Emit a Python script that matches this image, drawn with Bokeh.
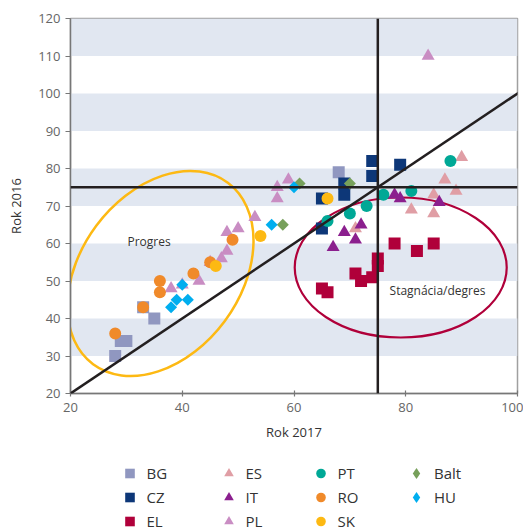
import numpy as np
from bokeh.plotting import figure
from bokeh.layouts import column
from bokeh.models import (Range1d, FixedTicker, Span, Slope, Label, Legend, LegendItem)
from bokeh.embed import file_html
from bokeh.resources import INLINE

# ---- data (Rok 2017 = x, Rok 2016 = y) ----
BG_x = [28, 29, 30, 33, 35, 68]
BG_y = [30, 34, 34, 43, 40, 79]
CZ_x = [65, 65, 69, 69, 74, 74, 79]
CZ_y = [72, 64, 76, 73, 82, 78, 81]
EL_x = [65, 66, 71, 72, 74, 75, 75, 78, 82, 85]
EL_y = [48, 47, 52, 50, 51, 54, 56, 60, 58, 60]
ES_x = [71, 81, 85, 85, 87, 89, 90]
ES_y = [64, 69, 68, 73, 77, 74, 83]
IT_x = [67, 69, 71, 72, 78, 79, 86]
IT_y = [59, 63, 61, 65, 73, 72, 71]
PL_x = [38, 40, 43, 45, 47, 48, 48, 50, 53, 57, 57, 59, 84]
PL_y = [48, 49, 50, 55, 56, 58, 63, 64, 67, 72, 75, 77, 110]
PT_x = [66, 70, 73, 76, 81, 88]
PT_y = [66, 68, 70, 73, 74, 82]
RO_x = [28, 33, 36, 36, 42, 45, 49]
RO_y = [36, 43, 47, 50, 52, 55, 61]
SK_x = [46, 54, 66]
SK_y = [54, 62, 72]
Balt_x = [58, 61, 70]
Balt_y = [65, 76, 76]
HU_x = [38, 39, 41, 40, 56, 60]
HU_y = [43, 45, 45, 49, 65, 75]

x_ticks = [20, 40, 60, 80, 100]
y_ticks = [20, 30, 40, 50, 60, 70, 80, 90, 100, 110, 120]
threshold_x = 75
threshold_y = 75

# group ellipses (center in data units)
prog_center = (36.1, 52.0)
stag_center = (79.1, 53.6)

FONT = "Open Sans"

p = figure(width=523, height=453, output_backend="svg", toolbar_location=None,
           x_range=Range1d(20, 100), y_range=Range1d(20, 120),
           min_border_left=70, min_border_right=6, min_border_top=18,
           min_border_bottom=60)
p.background_fill_color = "white"
p.outline_line_color = "#a0a0a0"
p.outline_line_width = 1.5

# bands
p.xgrid.grid_line_color = None
p.ygrid.grid_line_color = None
p.ygrid.band_fill_color = "#e1e7f1"
p.ygrid.band_fill_alpha = 1.0

for ax in (p.xaxis[0], p.yaxis[0]):
    ax.axis_line_color = "#777777"
    ax.axis_line_width = 1.5
    ax.major_tick_line_color = "#777777"
    ax.major_tick_line_width = 1.2
    ax.minor_tick_line_color = None
    ax.major_label_text_font = FONT
    ax.major_label_text_font_size = "13px"
    ax.major_label_text_color = "#666666"
    ax.axis_label_text_font = FONT
    ax.axis_label_text_font_size = "13px"
    ax.axis_label_text_font_style = "normal"
    ax.axis_label_text_color = "#333333"

p.xaxis.ticker = FixedTicker(ticks=x_ticks)
p.yaxis.ticker = FixedTicker(ticks=y_ticks)
p.xaxis.major_tick_in = 3
p.xaxis.major_tick_out = 3
p.yaxis.major_tick_in = 0
p.yaxis.major_tick_out = 5
p.xaxis.major_label_standoff = 6
p.yaxis.major_label_standoff = 5
p.xaxis.axis_label = "Rok 2017"
p.yaxis.axis_label = "Rok 2016"
p.xaxis.axis_label_standoff = 8
p.yaxis.axis_label_standoff = 10

# reference lines
p.add_layout(Slope(gradient=1, y_intercept=0, line_color="#231f20", line_width=2.5))
p.add_layout(Span(location=threshold_x, dimension="height", line_color="#231f20", line_width=2.5))
p.add_layout(Span(location=threshold_y, dimension="width", line_color="#231f20", line_width=2.5))

# group ellipses
p.ellipse(x=[prog_center[0]], y=[prog_center[1]], width=226, height=160,
          width_units="screen", height_units="screen", angle=0.932,
          fill_color=None, line_color="#fdb913", line_width=2.5)
p.ellipse(x=[stag_center[0]], y=[stag_center[1]], width=212, height=140,
          width_units="screen", height_units="screen", angle=0.0,
          fill_color=None, line_color="#b0003a", line_width=2.2)

p.add_layout(Label(x=30.2, y=60.5, text="Progres", text_font=FONT, text_font_size="12px",
                   text_color="#333333", text_baseline="middle"))
p.add_layout(Label(x=77.1, y=47.5, text="Stagnácia/degres", text_font=FONT,
                   text_font_size="12px", text_color="#333333", text_baseline="middle"))

series = [
    ("BG", BG_x, BG_y, "square", "#9097c0", 12, 0),
    ("CZ", CZ_x, CZ_y, "square", "#0d3778", 12, 0),
    ("EL", EL_x, EL_y, "square", "#b0003a", 12, 0),
    ("ES", ES_x, ES_y, "triangle", "#e09ea5", 13, 0),
    ("IT", IT_x, IT_y, "triangle", "#8b1f8e", 13, 0),
    ("PL", PL_x, PL_y, "triangle", "#c98dc3", 13, 0),
    ("PT", PT_x, PT_y, "circle", "#00a896", 12, 0),
    ("RO", RO_x, RO_y, "circle", "#f08a2a", 12, 0),
    ("SK", SK_x, SK_y, "circle", "#fdb913", 12, 0),
    ("Balt", Balt_x, Balt_y, "square", "#77a05b", 8.5, np.pi / 4),
    ("HU", HU_x, HU_y, "square", "#00aeef", 8.5, np.pi / 4),
]

for name, xs, ys, marker, color, size, ang in series:
    p.scatter(x=xs, y=ys, marker=marker, size=size, angle=ang,
              fill_color=color, line_color=None)

# ---- legend panel below the chart (key glyphs only; off-canvas anchor point) ----
lf = figure(width=523, height=76, output_backend="svg", toolbar_location=None,
            x_range=Range1d(0, 1), y_range=Range1d(0, 1),
            x_axis_location=None, y_axis_location=None,
            min_border_left=0, min_border_right=0, min_border_top=0, min_border_bottom=0)
lf.grid.visible = False
lf.outline_line_color = None

items = {}
for name, xs, ys, marker, color, size, ang in series:
    mk = "diamond" if ang else marker
    r = lf.scatter(x=[-5], y=[-5], marker=mk, size=size,
                   fill_color=color, line_color=None)
    items[name] = LegendItem(label=name, renderers=[r])

common = dict(orientation="vertical", spacing=0, padding=0, margin=0,
              label_text_font=FONT, label_text_font_size="15px",
              label_text_color="#333333", border_line_color=None,
              background_fill_alpha=0)

# frame of this panel is aligned with the chart frame (left edge at x=70)
columns = [(["BG", "CZ", "EL"], 46.5), (["ES", "IT", "PL"], 145.5),
           (["PT", "RO", "SK"], 237.5)]
for names, lx in columns:
    h = 24 * len(names)
    lg = Legend(items=[items[n] for n in names], location=(lx, 76 - 7.5 - h),
                glyph_width=25, glyph_height=24, label_height=24, label_standoff=5,
                **common)
    lf.add_layout(lg, "center")

for n, ly in (("Balt", 42.5), ("HU", 18.5)):
    lg = Legend(items=[items[n]], location=(332, ly),
                glyph_width=28, glyph_height=28, label_height=28, label_standoff=4,
                **common)
    lf.add_layout(lg, "center")

layout = column(p, lf, spacing=0)
open("out.html", "w").write(file_html(layout, INLINE))
